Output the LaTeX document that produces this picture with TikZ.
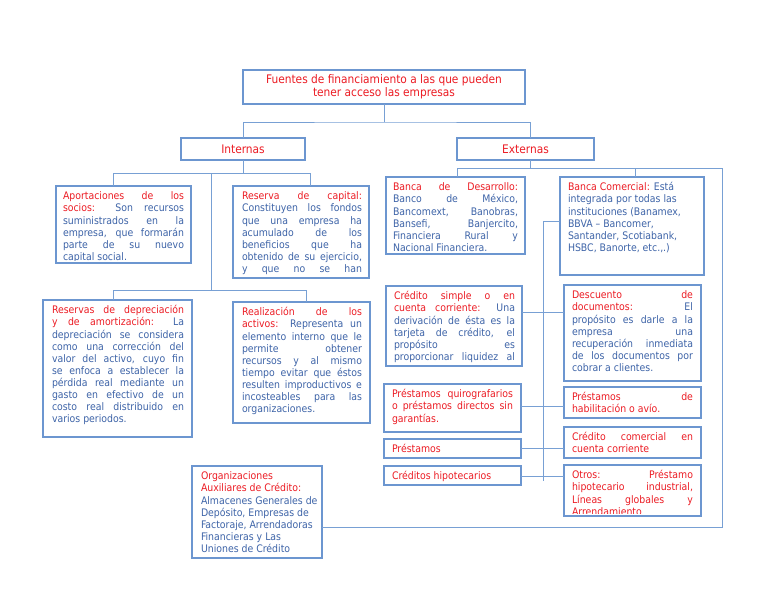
\documentclass[tikz,border=0pt]{standalone}
\usepackage{fontspec}
\setmainfont{DejaVu Sans Condensed}
\definecolor{bord}{RGB}{108,150,208}
\definecolor{lin}{RGB}{120,160,212}
\definecolor{tblue}{RGB}{62,100,168}
\definecolor{tred}{RGB}{236,28,36}
\newcommand\jline[1]{\hbox to\hsize{\rule{0pt}{8.6pt}#1}}
\newcommand\lline[1]{\hbox to\hsize{\rule{0pt}{8.6pt}#1\hfil}}
\newcommand\rd[1]{\textcolor{tred}{#1}}
\newcommand\tbox[8]{%
  \node[boxst, minimum width=#4pt, minimum height=#5pt] (#1) at (#2,#3) {};
  \begin{scope}
    \clip (#2+1,#3+1) rectangle (#2+#4-1,#3+#5-2.5);
    \node[txt] (t#1) at (#2+#6,#3+5.2) {\vbox{\hsize=#7pt #8}};
  \end{scope}}
\tikzset{
  boxst/.style={draw=bord, line width=1.2pt, fill=white, anchor=north west, inner sep=0pt, outer sep=0pt},
  txt/.style={anchor=north west, inner sep=0pt, outer sep=0pt, text=tblue, font=\fontsize{10.4pt}{12.1pt}\selectfont},
  hdr/.style={draw=bord, line width=1.2pt, fill=white, anchor=north west, inner sep=0pt, outer sep=0pt, text=tred, align=center, font=\fontsize{11.8pt}{13.3pt}\selectfont},
  conn/.style={draw=lin, line width=1pt}
}
\begin{document}
\begin{tikzpicture}[x=1pt,y=-1pt]
\useasboundingbox[fill=white] (0,0) rectangle (768,594);
% headers
\node[hdr, minimum width=282pt, minimum height=34pt] (top) at (243,70) {Fuentes de financiamiento a las que pueden\\tener acceso las empresas};
\node[hdr, minimum width=124pt, minimum height=22pt] (int) at (181,138) {Internas};
\node[hdr, minimum width=137pt, minimum height=22pt] (ext) at (457,138) {Externas};
% internas
\tbox{apo}{56}{186}{135}{77}{7}{121}{%
\jline{\rd{Aportaciones de los}}
\jline{\rd{socios:} Son recursos}
\jline{suministrados en la}
\jline{empresa, que formarán}
\jline{parte de su nuevo}
\lline{capital social.}}
\tbox{rcap}{233}{186}{136}{92}{9}{120}{%
\jline{\rd{Reserva de capital:}}
\jline{Constituyen los fondos}
\jline{que una empresa ha}
\jline{acumulado de los}
\jline{beneficios que ha}
\jline{obtenido de su ejercicio,}
\jline{y que no se han}}
\tbox{rdep}{43}{300}{149}{137}{9}{132}{%
\jline{\rd{Reservas de depreciación}}
\jline{\rd{y de amortización:} La}
\jline{depreciación se considera}
\jline{como una corrección del}
\jline{valor del activo, cuyo fin}
\jline{se enfoca a establecer la}
\jline{pérdida real mediante un}
\jline{gasto en efectivo de un}
\jline{costo real distribuido en}
\lline{varios periodos.}}
\tbox{real}{233}{302}{137}{121}{9}{120}{%
\jline{\rd{Realización de los}}
\jline{\rd{activos:} Representa un}
\jline{elemento interno que le}
\jline{permite obtener}
\jline{recursos y al mismo}
\jline{tiempo evitar que éstos}
\jline{resulten improductivos e}
\jline{incosteables para las}
\lline{organizaciones.}}
% externas
\tbox{bdes}{386}{177}{139}{77}{7}{125}{%
\jline{\rd{Banca de Desarrollo:}}
\jline{Banco de México,}
\jline{Bancomext, Banobras,}
\jline{Bansefi, Banjercito,}
\jline{Financiera Rural y}
\lline{Nacional Financiera.}}
\tbox{bcom}{560}{177}{144}{98}{8}{130}{%
\lline{\rd{Banca Comercial:} Está}
\lline{integrada por todas las}
\lline{instituciones (Banamex,}
\lline{BBVA – Bancomer,}
\lline{Santander, Scotiabank,}
\lline{HSBC, Banorte, etc.,.)}}
\tbox{cs}{386}{286}{136}{80}{8}{121}{%
\jline{\rd{Crédito simple o en}}
\jline{\rd{cuenta corriente:} Una}
\jline{derivación de ésta es la}
\jline{tarjeta de crédito, el}
\jline{propósito es}
\jline{proporcionar liquidez al}}
\tbox{desc}{564}{285}{137}{96}{8}{121}{%
\jline{\rd{Descuento de}}
\jline{\rd{documentos:} El}
\jline{propósito es darle a la}
\jline{empresa una}
\jline{recuperación inmediata}
\jline{de los documentos por}
\lline{cobrar a clientes.}}
\tbox{quir}{384}{384}{137}{48}{8}{121}{%
\jline{\rd{Préstamos quirografarios}}
\jline{\rd{o préstamos directos sin}}
\lline{\rd{garantías.}}}
\tbox{hab}{564}{387}{137}{31}{8}{121}{%
\jline{\rd{Préstamos de}}
\lline{\rd{habilitación o avío.}}}
\tbox{prest}{384}{439}{137}{19}{8}{121}{%
\lline{\rd{Préstamos}}}
\tbox{ccom}{564}{427}{137}{31}{8}{121}{%
\jline{\rd{Crédito comercial en}}
\lline{\rd{cuenta corriente}}}
\tbox{hip}{384}{466}{137}{19}{8}{121}{%
\lline{\rd{Créditos hipotecarios}}}
\tbox{otros}{564}{465}{137}{51}{8}{121}{%
\jline{\rd{Otros: Préstamo}}
\jline{\rd{hipotecario industrial,}}
\jline{\rd{Líneas globales y}}
\lline{\rd{Arrendamiento}}}
\tbox{org}{192}{466}{130}{92}{9}{120}{%
\lline{\rd{Organizaciones}}
\lline{\rd{Auxiliares de Crédito:}}
\lline{Almacenes Generales de}
\lline{Depósito, Empresas de}
\lline{Factoraje, Arrendadoras}
\lline{Financieras y Las}
\lline{Uniones de Crédito}}
% connectors
\coordinate (c1) at (384,122);
\draw[conn] (top.south) -- (c1);
\draw[conn] (int.north) |- (c1) -| ([xshift=5pt]ext.north);
\coordinate (c2) at (243,173);
\coordinate (c2l) at (113,173);
\coordinate (c2r) at (310,173);
\draw[conn] (int.south) -- (c2);
\draw[conn] (apo.north -| c2l) -- (c2l) -- (c2r) -- (rcap.north -| c2r);
\coordinate (c3) at (211,173);
\coordinate (c4) at (211,290);
\coordinate (c4l) at (113,290);
\coordinate (c4r) at (306,290);
\draw[conn] (c3) -- (c4);
\draw[conn] (rdep.north -| c4l) -- (c4l) -- (c4r) -- (real.north -| c4r);
\coordinate (e1) at (530,168);
\coordinate (e1l) at (457,168);
\coordinate (e1m) at (635,168);
\coordinate (e1r) at (722,168);
\coordinate (e2) at (722,527);
\draw[conn] (ext.south -| e1) -- (e1);
\draw[conn] (bdes.north -| e1l) -- (e1l) -- (e1r) -- (e2) -- (org.east |- e2);
\draw[conn] (e1m) -- (bcom.north -| e1m);
\coordinate (s1) at (543,221);
\coordinate (s2) at (543,481);
\draw[conn] (bcom.west |- s1) -- (s1) -- (s2);
\coordinate (h1) at (543,312);
\coordinate (h2) at (543,406);
\coordinate (h3) at (543,448);
\coordinate (h4) at (543,476);
\draw[conn] (cs.east |- h1) -- (desc.west |- h1);
\draw[conn] (quir.east |- h2) -- (hab.west |- h2);
\draw[conn] (prest.east |- h3) -- (ccom.west |- h3);
\draw[conn] (hip.east |- h4) -- (otros.west |- h4);
\end{tikzpicture}
\end{document}
